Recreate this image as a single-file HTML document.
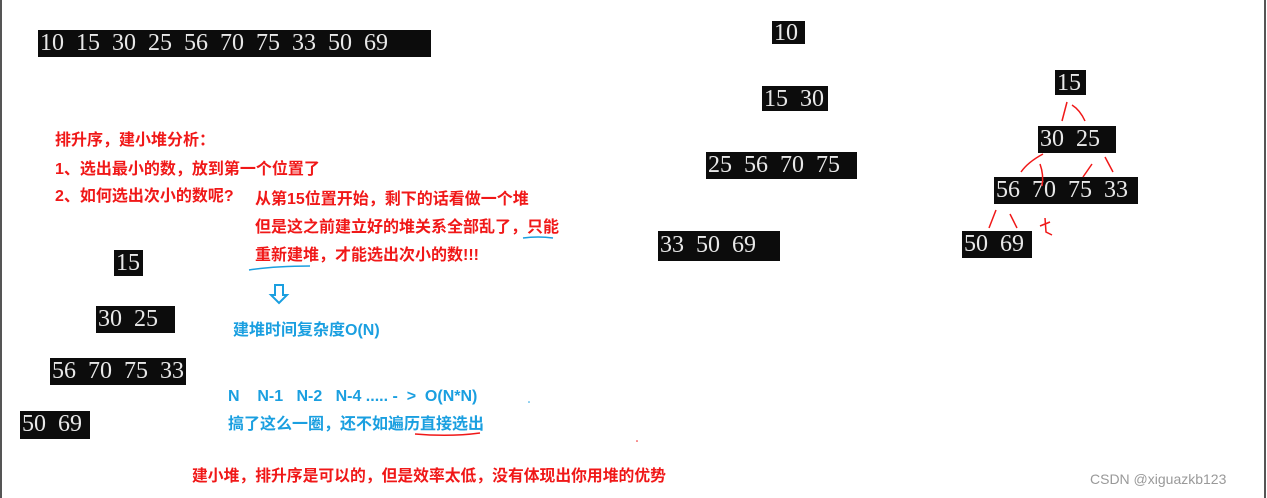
<!DOCTYPE html>
<html><head><meta charset="utf-8"><style>
html,body{margin:0;padding:0;background:#fff;}
body{width:1267px;height:498px;position:relative;overflow:hidden;font-family:"Liberation Sans","Noto Sans CJK SC",sans-serif;}
.b{position:absolute;background:#0c0c0c;color:#e8e8e8;font-family:"Liberation Serif","Noto Serif CJK SC",serif;font-size:24px;line-height:26px;padding-left:2px;white-space:pre;box-sizing:border-box;word-spacing:6px;overflow:hidden;}
.t{position:absolute;font-weight:bold;font-size:16px;white-space:pre;line-height:18px;}
.r{color:#f01818}.u{color:#1a9fe0}
</style></head><body>
<div style="position:absolute;left:0;top:0;width:2px;height:498px;background:#555"></div>
<div style="position:absolute;left:1264px;top:0;width:2px;height:498px;background:#555"></div>

<div class="b" style="left:38px;top:30px;width:393px;height:27px;">10 15 30 25 56 70 75 33 50 69</div>

<div class="b" style="left:772px;top:21px;width:33px;height:23px;line-height:24px">10</div>
<div class="b" style="left:762px;top:86px;width:66px;height:25px;">15 30</div>
<div class="b" style="left:706px;top:152px;width:151px;height:27px;">25 56 70 75</div>
<div class="b" style="left:658px;top:231px;width:122px;height:30px;line-height:28px">33 50 69</div>

<div class="b" style="left:1055px;top:70px;width:31px;height:25px;">15</div>
<div class="b" style="left:1038px;top:126px;width:78px;height:27px;">30 25</div>
<div class="b" style="left:994px;top:177px;width:144px;height:27px;">56 70 75 33</div>
<div class="b" style="left:962px;top:231px;width:70px;height:27px;">50 69</div>

<div class="b" style="left:114px;top:250px;width:29px;height:26px;">15</div>
<div class="b" style="left:96px;top:306px;width:79px;height:27px;">30 25</div>
<div class="b" style="left:50px;top:358px;width:136px;height:27px;">56 70 75 33</div>
<div class="b" style="left:20px;top:411px;width:70px;height:28px;">50 69</div>

<div class="t r" style="left:55px;top:132px">排升序，建小堆分析：</div>
<div class="t r" style="left:55px;top:161px">1、选出最小的数，放到第一个位置了</div>
<div class="t r" style="left:55px;top:188px">2、如何选出次小的数呢?</div>
<div class="t r" style="left:255px;top:191px">从第15位置开始，剩下的话看做一个堆</div>
<div class="t r" style="left:255px;top:219px">但是这之前建立好的堆关系全部乱了，只能</div>
<div class="t r" style="left:255px;top:247px">重新建堆，才能选出次小的数!!!</div>
<div class="t u" style="left:233px;top:322px">建堆时间复杂度O(N)</div>
<div class="t u" style="left:228px;top:388px">N    N-1   N-2   N-4 ..... -  &gt;  O(N*N)</div>
<div class="t u" style="left:228px;top:416px">搞了这么一圈，还不如遍历直接选出</div>
<div class="t r" style="left:192px;top:468px;font-size:15.8px">建小堆，排升序是可以的，但是效率太低，没有体现出你用堆的优势</div>
<div style="position:absolute;left:1090px;top:471px;color:#999;font-size:14px;">CSDN @xiguazkb123</div>

<svg style="position:absolute;left:0;top:0" width="1267" height="498">
<g fill="none" stroke-width="1.5">
<path d="M523 238 Q538 236 553 238" stroke="#1a9fe0"/>
<path d="M249 270 Q275 266 310 266" stroke="#1a9fe0"/>
<path d="M415 434 Q450 437 480 433" stroke="#f01818"/>
<path d="M275 285 h8 v10 h4 l-8 8 l-8 -8 h4 z" stroke="#1a9fe0" stroke-width="2"/>
<g stroke="#f01818">
<path d="M1067 102 L1062 121"/><path d="M1072 105 Q1080 110 1085 121"/>
<path d="M1043 154 Q1028 162 1021 172"/><path d="M1040 164 Q1044 175 1042 186"/>
<path d="M1092 164 L1083 177"/><path d="M1105 157 L1113 172"/>
<path d="M996 210 L989 228"/><path d="M1010 214 L1017 228"/>
<path d="M1040 226 L1050 222"/><path d="M1045 218 L1046 232 L1052 235"/>
</g></g>
<circle cx="529" cy="402" r="0.8" fill="#1a9fe0"/>
<circle cx="637" cy="441" r="0.8" fill="#f01818"/>
</svg>
</body></html>
